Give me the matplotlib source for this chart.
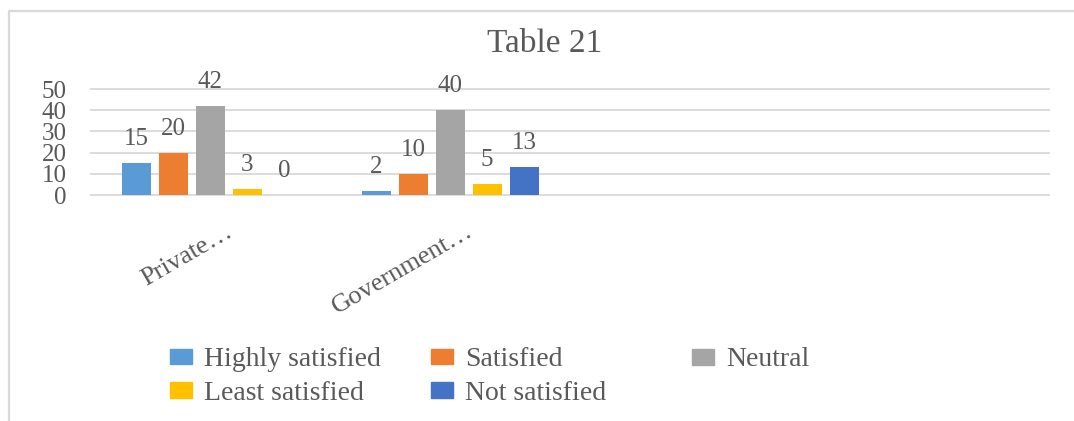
import matplotlib
matplotlib.use("Agg")
import matplotlib.pyplot as plt
import matplotlib.transforms as mtransforms
from matplotlib.lines import Line2D
from matplotlib.patches import Rectangle
import numpy as np

# ---- data -------------------------------------------------------------
title = "Table 21"
categories = ["Private…", "Government…"]
series_names = ["Highly satisfied", "Satisfied", "Neutral",
                "Least satisfied", "Not satisfied"]
highly_satisfied = [15, 2]
satisfied = [20, 10]
neutral = [42, 40]
least_satisfied = [3, 5]
not_satisfied = [0, 13]
y_ticks = [0, 10, 20, 30, 40, 50]

series_values = [highly_satisfied, satisfied, neutral, least_satisfied, not_satisfied]
colors = ["#5B9BD5", "#ED7D31", "#A5A5A5", "#FFC000", "#4472C4"]

# ---- style ------------------------------------------------------------
TEXT = "#595959"
GRID = "#D9D9D9"
plt.rcParams["font.family"] = ["Liberation Serif", "DejaVu Serif"]

W, H = 1074, 421
DPI = 100
fig = plt.figure(figsize=(W / DPI, H / DPI), dpi=DPI)
fig.patch.set_facecolor("white")


def fx(x):
    return x / W


def fy(y):
    return 1 - y / H


# plot area (pixel frame, measured from the top-left corner)
left_px, right_px = 90, 1050
zero_px, unit_px = 195, 2.12
ymin, ymax = -1, 51
bottom_px = zero_px - ymin * unit_px
top_px = zero_px - ymax * unit_px
ax = fig.add_axes([fx(left_px), fy(bottom_px),
                   fx(right_px - left_px), (bottom_px - top_px) / H])
ax.set_ylim(ymin, ymax)
n_slots = 4
ax.set_xlim(-0.5, n_slots - 0.5)
for s in ax.spines.values():
    s.set_visible(False)

# gridlines
ax.set_yticks(y_ticks)
ax.yaxis.grid(True, color=GRID, lw=1.3)
ax.set_axisbelow(True)
ax.tick_params(axis="y", length=0, pad=17, labelsize=18, labelcolor=TEXT)
ax.set_xticks([])

# bars
x = np.arange(len(categories))
bar_w = 29 / 240
pitch = 37 / 240
n = len(series_values)
handles = []
for i, (name, vals, c) in enumerate(zip(series_names, series_values, colors)):
    pos = x + (i - (n - 1) / 2) * pitch
    ax.bar(pos, vals, bar_w, color=c, label=name, zorder=2)
    handles.append(Rectangle((0, 0), 1, 1, color=c))
    for xp, v in zip(pos, vals):
        ax.annotate(f"{v}", (xp, v), xytext=(0, 13), textcoords="offset points",
                    ha="center", va="baseline", fontsize=18, color=TEXT)

# rotated category labels
lbl_tr = mtransforms.blended_transform_factory(ax.transData, ax.transAxes)
shift = mtransforms.ScaledTranslation(24 / DPI, -38 / DPI, fig.dpi_scale_trans)
for xi, name in zip(x, categories):
    ax.text(xi, 0, name, transform=lbl_tr + shift, rotation=30,
            rotation_mode="anchor", ha="right", va="baseline",
            fontsize=19, color=TEXT)

# title
fig.text(fx(545), fy(52), title, ha="center", va="baseline",
         fontsize=24, color=TEXT)

# legend laid out in three evenly spaced columns, filled row by row
leg_fs = 20
fs_px = leg_fs * DPI / 72
col_x = [170, 431, 692]
ncol = 3
for j, cx in enumerate(col_x):
    idx = list(range(j, n, ncol))
    rows = len(idx)
    yc = 360 if rows == 1 else (360 + 393) / 2
    fig.legend([handles[k] for k in idx], [series_names[k] for k in idx],
               loc="center left", bbox_to_anchor=(fx(cx), fy(yc)),
               frameon=False, fontsize=leg_fs, borderpad=0,
               borderaxespad=0, handlelength=22 / fs_px,
               handleheight=14 / fs_px, handletextpad=12 / fs_px,
               labelspacing=0.3, labelcolor=TEXT)

# chart border (top and left edges)
fig.add_artist(Line2D([fx(9), fx(9), 1], [0, fy(11), fy(11)],
                      color="#D9D9D9", lw=1.6))

fig.savefig("out.png", dpi=DPI)
